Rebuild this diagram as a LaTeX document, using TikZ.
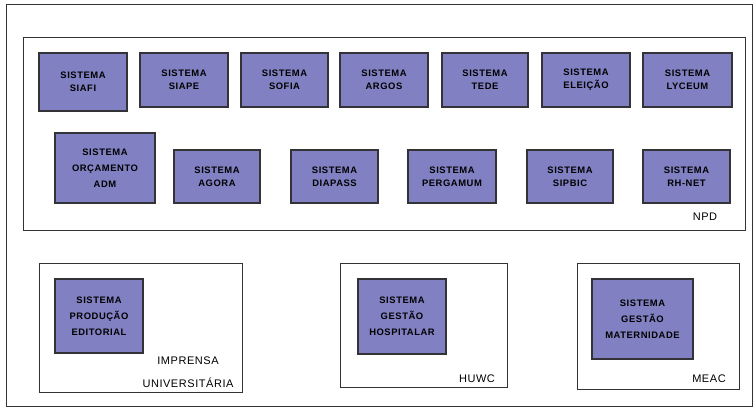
\documentclass[tikz,border=0pt]{standalone}
\usepackage{fontspec}
\setmainfont{Liberation Sans}
\definecolor{sysfill}{RGB}{128,128,194}
\definecolor{edge}{RGB}{50,50,55}
\begin{document}
\begin{tikzpicture}[x=1pt,y=-1pt,
  sysbox/.style={draw=edge, line width=1.1pt, fill=sysfill, align=center, inner sep=0pt,
    font=\fontsize{9.4}{13}\bfseries\addfontfeatures{LetterSpace=6}\selectfont, text=black},
  systhree/.style={sysbox, font=\fontsize{9.4}{16}\bfseries\addfontfeatures{LetterSpace=6}\selectfont},
  group/.style={draw=edge, line width=0.9pt},
  grouplabel/.style={font=\fontsize{11}{23}\addfontfeatures{LetterSpace=5}\selectfont, align=center, inner sep=0pt, text=black}]
\useasboundingbox (0,0) rectangle (756,417);
\fill[white] (0,0) rectangle (756,417);
% outer frame
\node[group, minimum width=746pt, minimum height=402pt, inner sep=0pt, anchor=north west] (outer) at (6,4) {};
% NPD group
\node[group, minimum width=722pt, minimum height=193pt, inner sep=0pt, anchor=north west] (npd) at (23,37) {};
\node[grouplabel, anchor=center] (npdlabel) at (705,217) {NPD};
% row 1
\node[sysbox, minimum width=88pt, minimum height=58pt] (siafi) at (83,82) {SISTEMA\\SIAFI};
\node[sysbox, minimum width=88pt, minimum height=54pt] (siape) at (184,80) {SISTEMA\\SIAPE};
\node[sysbox, minimum width=87pt, minimum height=54pt] (sofia) at (284.5,80) {SISTEMA\\SOFIA};
\node[sysbox, minimum width=88pt, minimum height=54pt] (argos) at (384,80) {SISTEMA\\ARGOS};
\node[sysbox, minimum width=86pt, minimum height=54pt] (tede) at (485,80) {SISTEMA\\TEDE};
\node[sysbox, minimum width=88pt, minimum height=54pt] (eleicao) at (586,80) {SISTEMA\\ELEIÇÃO};
\node[sysbox, minimum width=89pt, minimum height=54pt] (lyceum) at (687.5,80) {SISTEMA\\LYCEUM};
% row 2
\node[systhree, minimum width=100pt, minimum height=70pt] (orcamento) at (105,168) {SISTEMA\\ORÇAMENTO\\ADM};
\node[sysbox, minimum width=86pt, minimum height=53pt] (agora) at (217,176.5) {SISTEMA\\AGORA};
\node[sysbox, minimum width=87pt, minimum height=53pt] (diapass) at (334.5,176.5) {SISTEMA\\DIAPASS};
\node[sysbox, minimum width=88pt, minimum height=53pt] (pergamum) at (452,176.5) {SISTEMA\\PERGAMUM};
\node[sysbox, minimum width=86pt, minimum height=53pt] (sipbic) at (570,176.5) {SISTEMA\\SIPBIC};
\node[sysbox, minimum width=87pt, minimum height=53pt] (rhnet) at (686.5,176.5) {SISTEMA\\RH-NET};
% Imprensa
\node[group, minimum width=203pt, minimum height=129pt, inner sep=0pt, anchor=north west] (imprensa) at (39,263) {};
\node[systhree, minimum width=88pt, minimum height=74pt] (producao) at (99,316) {SISTEMA\\PRODUÇÃO\\EDITORIAL};
\node[grouplabel] (imprensalabel) at (188,372.5) {IMPRENSA\\UNIVERSITÁRIA};
% HUWC
\node[group, minimum width=167pt, minimum height=124pt, inner sep=0pt, anchor=north west] (huwc) at (340,263) {};
\node[systhree, minimum width=88pt, minimum height=75pt] (hospitalar) at (402,316.5) {SISTEMA\\GESTÃO\\HOSPITALAR};
\node[grouplabel] (huwclabel) at (477,379) {HUWC};
% MEAC
\node[group, minimum width=162pt, minimum height=126pt, inner sep=0pt, anchor=north west] (meac) at (577,263) {};
\node[systhree, minimum width=101pt, minimum height=80pt] (maternidade) at (642.5,319) {SISTEMA\\GESTÃO\\MATERNIDADE};
\node[grouplabel] (meaclabel) at (709,379) {MEAC};
\end{tikzpicture}
\end{document}
